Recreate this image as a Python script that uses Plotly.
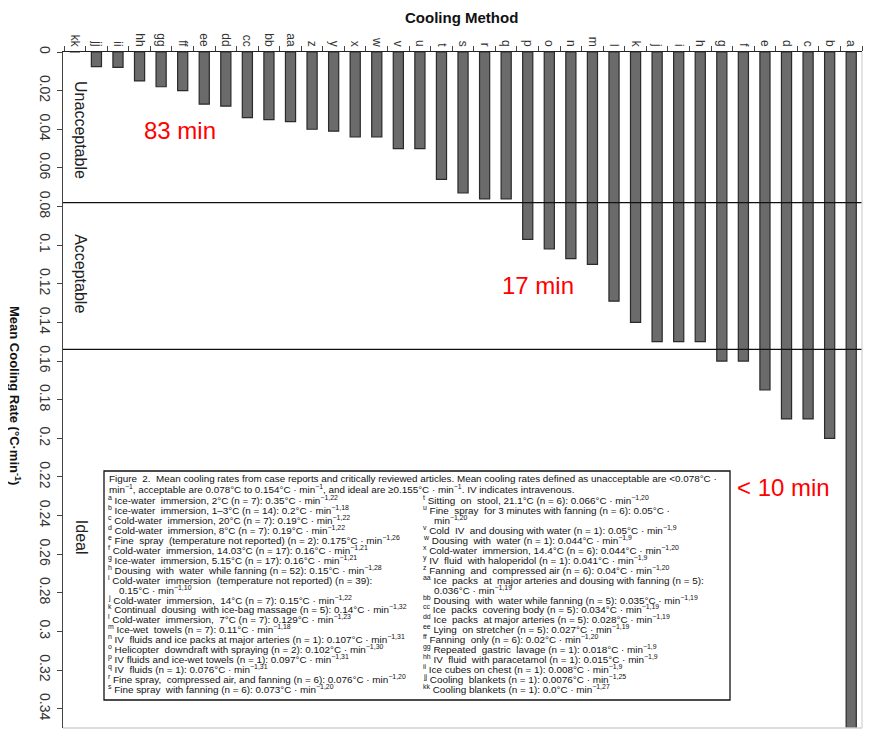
import plotly.graph_objects as go

# ---------------- data ----------------
letters = ["a", "b", "c", "d", "e", "f", "g", "h", "i", "j", "k", "l", "m", "n", "o",
           "p", "q", "r", "s", "t", "u", "v", "w", "x", "y", "z", "aa", "bb", "cc",
           "dd", "ee", "ff", "gg", "hh", "ii", "jj", "kk"]
rates = [0.35, 0.2, 0.19, 0.19, 0.175, 0.16, 0.16, 0.15, 0.15, 0.15, 0.14, 0.129, 0.11,
         0.107, 0.102, 0.097, 0.076, 0.076, 0.073, 0.066, 0.05, 0.05, 0.044, 0.044,
         0.041, 0.04, 0.036, 0.035, 0.034, 0.028, 0.027, 0.02, 0.018, 0.015, 0.008,
         0.0076, 0.0]
methods = [
    "Ice-water  immersion, 2°C", "Ice-water  immersion, 1–3°C", "Cold-water  immersion, 20°C",
    "Cold-water  immersion, 8°C", "Fine  spray  (temperature not reported)",
    "Cold-water  immersion, 14.03°C", "Ice-water  immersion, 5.15°C",
    "Dousing  with  water  while fanning", "Cold-water  immersion  (temperature not reported)",
    "Cold-water  immersion,  14°C", "Continual  dousing  with ice-bag massage",
    "Cold-water  immersion,  7°C", "Ice-wet  towels", "IV  fluids and ice packs at major arteries",
    "Helicopter  downdraft with spraying", "IV fluids and ice-wet towels", "IV  fluids",
    "Fine spray,  compressed air, and fanning", "Fine spray  with fanning",
    "Sitting  on  stool, 21.1°C", "Fine  spray  for 3 minutes with fanning",
    "Cold  IV  and dousing with water", "Dousing  with  water", "Cold-water  immersion, 14.4°C",
    "IV  fluid  with haloperidol", "Fanning  and  compressed air",
    "Ice  packs  at  major arteries and dousing with fanning",
    "Dousing  with  water while fanning", "Ice  packs  covering body",
    "Ice  packs  at major arteries", "Lying  on stretcher", "Fanning  only",
    "Repeated  gastric  lavage", "IV  fluid  with paracetamol", "Ice cubes on chest",
    "Cooling  blankets", "Cooling blankets"]
n_cases = [7, 14, 7, 7, 2, 17, 17, 52, 39, 7, 5, 7, 7, 1, 2, 1, 1, 6, 6, 6, 6, 1, 1, 6,
           1, 6, 5, 5, 5, 5, 5, 6, 1, 1, 1, 1, 1]
refs = ["22", "18", "22", "22", "26", "21", "21", "28", "10", "22", "32", "23", "18", "31",
        "30", "31", "31", "20", "20", "20", "20", "9", "9", "20", "9", "20", "19", "19",
        "19", "19", "19", "20", "9", "9", "9", "25", "27"]
wrap_after_n = ["i", "aa"]
wrap_after_value = ["u"]
unacceptable_max = 0.078
ideal_min = 0.154

caption1 = ("Figure  2.  Mean cooling rates from case reports and critically reviewed articles. "
            "Mean cooling rates defined as unacceptable are <0.078°C ·")
caption2 = ("min<sup>−1</sup>, acceptable are 0.078°C to 0.154°C · min<sup>−1</sup>, and ideal are "
            "≥0.155°C · min<sup>−1</sup>. IV indicates intravenous.")

# ---------------- figure ----------------
order = list(range(len(letters)))[::-1]
xcats = [letters[i] for i in order]
yvals = [rates[i] for i in order]

# page body has an 8px margin; figure is sized to fit the window
OFF = 8
W, H = 874 - OFF, 740 - OFF
PL, PT, PR, PB = 63, 52, 862, 728          # plot area in screen pixels
L, T = PL - OFF, PT - OFF
R, B = W - (PR - OFF), H - (PB - OFF)
pw, ph = PR - PL, PB - PT


def px_x(px):
    return (px - PL) / pw


def px_y(py):
    return (PB - py) / ph


FONT = "Liberation Sans, Arial, sans-serif"

fig = go.Figure()
fig.add_trace(go.Bar(
    x=xcats, y=yvals, width=0.47,
    marker=dict(color="#6b6b6b", line=dict(color="#2a2a2a", width=1.2)),
    showlegend=False, hoverinfo="x+y"))

shapes = []
for v in (unacceptable_max, ideal_min):
    shapes.append(dict(type="line", xref="paper", yref="y", x0=0, x1=1, y0=v, y1=v,
                       line=dict(color="#111", width=1.3)))
# faint frame right/bottom
shapes.append(dict(type="line", xref="paper", yref="paper", x0=1, x1=1, y0=0, y1=1,
                   line=dict(color="#d0d0d0", width=1.2)))
shapes.append(dict(type="line", xref="paper", yref="paper", x0=0, x1=1, y0=0, y1=0,
                   line=dict(color="#d0d0d0", width=1.5)))
# caption box
shapes.append(dict(type="rect", xref="paper", yref="paper",
                   x0=px_x(104), x1=px_x(730), y0=px_y(700), y1=px_y(471),
                   fillcolor="white", line=dict(color="#111", width=1.3), layer="above"))

ann = []
# zone labels
for txt, yv in (("Unacceptable", 0.0404), ("Acceptable", 0.1145), ("Ideal", 0.251)):
    ann.append(dict(text=txt, xref="paper", yref="y", x=px_x(81), y=yv, textangle=90,
                    xanchor="center", yanchor="middle",
                    showarrow=False, font=dict(family=FONT, size=16, color="#222")))
# red annotations
for txt, xp, yv in (("83 min", 180, 0.0404), ("17 min", 538, 0.1207), ("< 10 min", 783, 0.2253)):
    ann.append(dict(text=txt, xref="paper", yref="y", x=px_x(xp), y=yv, showarrow=False,
                    xanchor="center", yanchor="middle",
                    font=dict(family=FONT, size=24, color="#ff0000")))
# axis titles
ann.append(dict(text="<b>Cooling Method</b>", xref="paper", yref="paper", x=px_x(461),
                y=px_y(17), xanchor="center", yanchor="middle", showarrow=False,
                font=dict(family=FONT, size=15, color="#111")))
ann.append(dict(text="<b>Mean Cooling Rate (°C·min<sup>-1</sup>)</b>", xref="paper", yref="paper",
                x=px_x(15), y=px_y(395), textangle=90, xanchor="center", yanchor="middle",
                showarrow=False, font=dict(family=FONT, size=13, color="#111")))

# caption text lines
cap_font = dict(family=FONT, size=9.9, color="#111")
head_font = dict(family=FONT, size=9.85, color="#111")
ann.append(dict(text=caption1, xref="paper", yref="paper", x=px_x(107), y=px_y(478),
                xanchor="left", yanchor="middle", showarrow=False, font=head_font))
ann.append(dict(text=caption2, xref="paper", yref="paper", x=px_x(107), y=px_y(489),
                xanchor="left", yanchor="middle", showarrow=False, font=head_font))


def item_lines(i):
    lt = letters[i]
    head = f"<sup>{lt}</sup> {methods[i]} (n = {n_cases[i]}):"
    val = f"{rates[i]}°C ·"
    tail = f"min<sup>−1,{refs[i]}</sup>"
    if lt in wrap_after_n:
        return [head, "    " + val + " " + tail]
    if lt in wrap_after_value:
        return [head + " " + val, "    " + tail]
    return [head + " " + val + " " + tail]


left_lines, right_lines = [], []
for i in range(len(letters)):
    (left_lines if i < 19 else right_lines).extend(item_lines(i))

y0, dy = 500, 9.95
for col, xpx in ((left_lines, 106), (right_lines, 421)):
    for k, line in enumerate(col):
        ann.append(dict(text=line, xref="paper", yref="paper", x=px_x(xpx), y=px_y(y0 + k * dy),
                        xanchor="left", yanchor="middle", showarrow=False, font=cap_font))

fig.update_layout(
    width=W, height=H,
    margin=dict(l=L, r=R, t=T, b=B, autoexpand=False),
    plot_bgcolor="white", paper_bgcolor="white",
    shapes=shapes, annotations=ann,
    xaxis=dict(side="top", type="category", categoryorder="array", categoryarray=xcats,
               range=[-0.55, 36.5], tickangle=90, ticks="outside", ticklen=5,
               tickson="boundaries", tickcolor="#444", showline=True, linecolor="#222",
               linewidth=1.2, showgrid=False, tickfont=dict(family=FONT, size=12, color="#333")),
    yaxis=dict(range=[0.35, 0], dtick=0.02, tick0=0, tickformat="~g", tickangle=90,
               ticks="outside", ticklen=5, tickcolor="#444", showline=True, linecolor="#444",
               linewidth=1.2, showgrid=False, zeroline=False,
               tickfont=dict(family=FONT, size=14, color="#333")),
    font=dict(family=FONT),
)

fig.write_html("out.html")
